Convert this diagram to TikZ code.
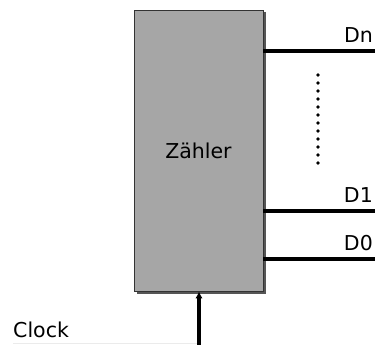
\documentclass[tikz,border=0pt]{standalone}
\usepackage{fontspec}
\setmainfont{DejaVu Sans}
\usetikzlibrary{arrows.meta,shadows}
\definecolor{boxgray}{HTML}{A6A6A6}
\definecolor{shadowgray}{HTML}{555555}
\begin{document}
\begin{tikzpicture}[x=1pt,y=-1pt,
  counter/.style={draw=black!80,line width=0.9pt,fill=boxgray,minimum width=129pt,minimum height=281pt,inner sep=0pt,
    drop shadow={shadow xshift=2.5pt,shadow yshift=-2.5pt,fill=shadowgray,opacity=1},font=\fontsize{20.5}{24}\selectfont},
  bus/.style={line width=3.6pt},
  lbl/.style={inner sep=0pt,font=\fontsize{20.5}{24}\selectfont},
  clkarrow/.style={line width=3.2pt,-{Latex[length=7pt,width=7.5pt]}},
  dotline/.style={line width=3.8pt,line cap=round,dash pattern=on 0pt off 8pt}]
\useasboundingbox (0,0) rectangle (375,345);
\node[counter] (z) at (198.5,150.5) {Zähler};
\coordinate (dn) at (375,51);
\coordinate (d1) at (375,211);
\coordinate (d0) at (375,259);
\coordinate (clk) at (199,345);
\coordinate (dtop) at (318,75);
\coordinate (dbot) at (318,164);
\draw[bus] (z.east |- dn) -- (dn);
\draw[bus] (z.east |- d1) -- (d1);
\draw[bus] (z.east |- d0) -- (d0);
\node[lbl,anchor=base east] (ldn) at (373,43) {Dn};
\node[lbl,anchor=base east] (ld1) at (373,202) {D1};
\node[lbl,anchor=base east] (ld0) at (373,250) {D0};
\draw[dotline] (dtop) -- (dbot);
\draw[clkarrow] (clk) -- (clk |- z.south);
\node[lbl,anchor=base west] (lclk) at (13,337) {Clock};
\draw[black!8,line width=0.8pt] (lclk.base west |- 0,343) -- (197,343);
\end{tikzpicture}
\end{document}
